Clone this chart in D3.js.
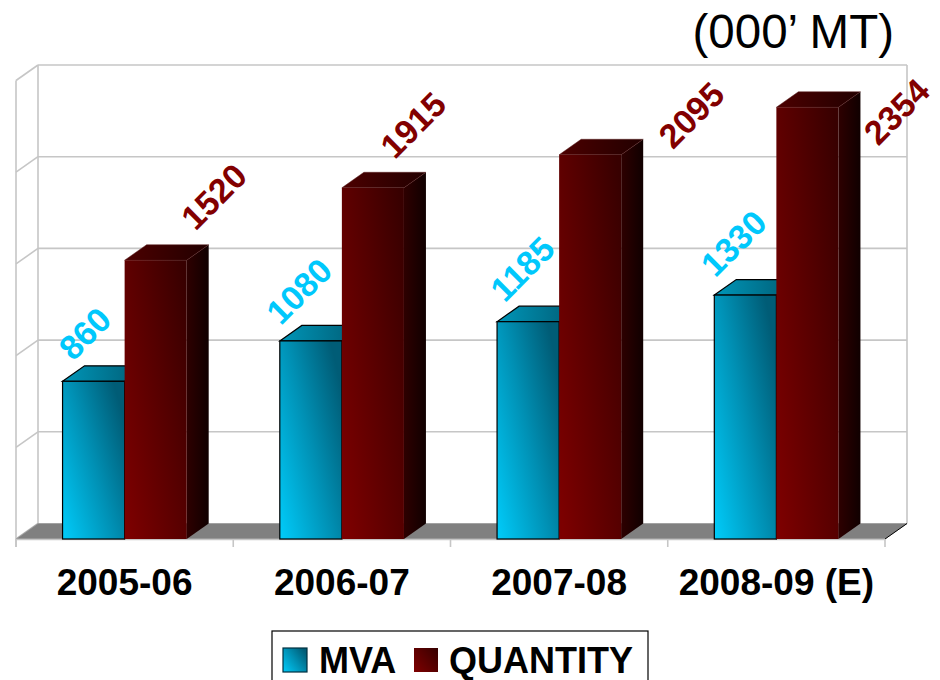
<!DOCTYPE html>
<html>
<head>
<meta charset="utf-8">
<script src="https://cdn.jsdelivr.net/npm/d3@7"></script>
<style>
  html, body { margin: 0; padding: 0; background: #ffffff; }
  svg { display: block; font-family: "Liberation Sans", Arial, sans-serif; }
</style>
</head>
<body>
<svg id="chart" width="940" height="680"></svg>
<script>
// ---- data ----
const categories = ["2005-06", "2006-07", "2007-08", "2008-09 (E)"];
const seriesNames = ["MVA", "QUANTITY"];
const mva = [860, 1080, 1185, 1330];
const quantity = [1520, 1915, 2095, 2354];
const yTicks = [0, 500, 1000, 1500, 2000, 2500];
const unitLabel = "(000\u2019 MT)";

// ---- layout ----
const W = 940, H = 680;
const frontLeft = 16, frontRight = 885, floorY = 539;
const depth = { dx: 22, dy: -15.5 };
const yMax = 2500, yTopFront = 80.5;
// label nudges relative to top-front-centre of each bar (pixels)
const mvaLabelNudge = [[-9, -48], [-12, -50], [-6, -53], [-12, -52]];
const qtyLabelNudge = [[58, -64], [40, -63], [101, -40], [89, 4]];

const svg = d3.select("#chart");
const defs = svg.append("defs");

function grad(id, x1, y1, x2, y2, stops) {
  const g = defs.append("linearGradient").attr("id", id)
    .attr("x1", x1).attr("y1", y1).attr("x2", x2).attr("y2", y2);
  stops.forEach(s => g.append("stop").attr("offset", s[0]).attr("stop-color", s[1]));
}
grad("mvaFront", 0, 1, 1, 0.25, [[0, "#00ccfa"], [0.55, "#0090b4"], [1, "#005c76"]]);
grad("mvaTop", 0, 0, 1, 0, [[0, "#0096b8"], [1, "#005a72"]]);
grad("mvaSide", 0, 0, 1, 0, [[0, "#004a5c"], [1, "#002a36"]]);
grad("qtyFront", 0, 0.9, 1, 0.1, [[0, "#7c0000"], [0.6, "#540000"], [1, "#380000"]]);
grad("qtyTop", 0, 0, 1, 0, [[0, "#4c0000"], [1, "#220000"]]);
grad("qtySide", 0, 0, 1, 0, [[0, "#2e0000"], [1, "#100000"]]);

const fills = [
  { front: "url(#mvaFront)", top: "url(#mvaTop)", side: "url(#mvaSide)", stroke: "#000000", label: "#00c8fc" },
  { front: "url(#qtyFront)", top: "url(#qtyTop)", side: "url(#qtySide)", stroke: "none", label: "#820000" }
];

// scales
const x0 = d3.scaleBand().domain(categories).range([frontLeft, frontRight])
  .paddingInner(1.5 / 3.5).paddingOuter(0.75 / 3.5);
const x1 = d3.scaleBand().domain(seriesNames).range([0, x0.bandwidth()]);
const y = d3.scaleLinear().domain([0, yMax]).range([floorY, yTopFront]);
const step = x0.step();
const boundaries = d3.range(categories.length + 1).map(i => frontLeft + i * step);

// ---- back wall ----
const backL = frontLeft + depth.dx, backR = frontRight + depth.dx;
const gridColor = "#c6c6c6";
const grid = svg.append("g");
yTicks.forEach(v => {
  const yb = y(v) + depth.dy;
  if (v > 0) {
    grid.append("line").attr("x1", backL).attr("x2", backR).attr("y1", yb).attr("y2", yb)
      .attr("stroke", gridColor).attr("stroke-width", 1.6);
  }
  grid.append("line").attr("x1", frontLeft).attr("y1", y(v)).attr("x2", backL).attr("y2", yb)
    .attr("stroke", gridColor).attr("stroke-width", 1.6);
});
grid.append("line").attr("x1", backL).attr("x2", backL)
  .attr("y1", y(yMax) + depth.dy).attr("y2", y(0) + depth.dy)
  .attr("stroke", gridColor).attr("stroke-width", 1.6);
grid.append("line").attr("x1", backR).attr("x2", backR)
  .attr("y1", y(yMax) + depth.dy).attr("y2", y(0) + depth.dy)
  .attr("stroke", gridColor).attr("stroke-width", 1.6);
grid.append("line").attr("x1", frontLeft).attr("x2", frontLeft)
  .attr("y1", y(yMax)).attr("y2", y(0) + 8)
  .attr("stroke", gridColor).attr("stroke-width", 1.6);

// ---- floor ----
svg.append("path")
  .attr("d", d3.line()([[frontLeft, y(0)], [frontRight, y(0)], [backR, y(0) + depth.dy], [backL, y(0) + depth.dy]]) + "Z")
  .attr("fill", "#808080").attr("stroke", "#9a9a9a").attr("stroke-width", 0.8);
svg.append("line").attr("x1", frontRight).attr("y1", y(0)).attr("x2", backR).attr("y2", y(0) + depth.dy)
  .attr("stroke", "#000").attr("stroke-width", 1);
svg.append("line").attr("x1", frontLeft).attr("x2", frontRight).attr("y1", y(0) + 0.5).attr("y2", y(0) + 0.5)
  .attr("stroke", gridColor).attr("stroke-width", 1.6);
boundaries.forEach(bx => {
  svg.append("line").attr("x1", bx).attr("x2", bx).attr("y1", y(0)).attr("y2", y(0) + 8)
    .attr("stroke", gridColor).attr("stroke-width", 1.6);
});

// ---- bars ----
const seriesValues = [mva, quantity];
const nudges = [mvaLabelNudge, qtyLabelNudge];
const bars = svg.append("g");
categories.forEach((c, ci) => {
  seriesNames.forEach((s, si) => {
    const v = seriesValues[si][ci];
    const xl = x0(c) + x1(s), xr = xl + x1.bandwidth();
    const yt = y(v), yb = y(0);
    const f = fills[si];
    const g = bars.append("g");
    g.append("path").attr("d", d3.line()([[xr, yt], [xr + depth.dx, yt + depth.dy], [xr + depth.dx, yb + depth.dy], [xr, yb]]) + "Z")
      .attr("fill", f.side).attr("stroke", f.stroke).attr("stroke-width", 1);
    g.append("path").attr("d", d3.line()([[xl, yt], [xl + depth.dx, yt + depth.dy], [xr + depth.dx, yt + depth.dy], [xr, yt]]) + "Z")
      .attr("fill", f.top).attr("stroke", f.stroke === "none" ? "#5a2020" : f.stroke)
      .attr("stroke-width", f.stroke === "none" ? 0.5 : 1.2);
    g.append("rect").attr("x", xl).attr("y", yt).attr("width", xr - xl).attr("height", yb - yt)
      .attr("fill", f.front).attr("stroke", f.stroke).attr("stroke-width", 1.2);
    const nd = nudges[si][ci];
    g.append("text")
      .attr("transform", `translate(${(xl + xr) / 2 + nd[0]},${yt + nd[1]}) rotate(-45)`)
      .attr("text-anchor", "middle").attr("dy", "0.36em")
      .attr("font-size", 34).attr("font-weight", "bold").attr("fill", f.label)
      .text(v);
  });
});

// ---- category labels ----
svg.append("g").selectAll("text").data(categories).join("text")
  .attr("x", d => x0(d) + x0.bandwidth() / 2).attr("y", 595)
  .attr("text-anchor", "middle").attr("font-size", 37).attr("font-weight", "bold").attr("fill", "#000")
  .text(d => d);

// ---- unit label ----
svg.append("text").attr("x", 894).attr("y", 48).attr("text-anchor", "end")
  .attr("font-size", 47.5).attr("fill", "#000").text(unitLabel);

// ---- legend ----
const lg = svg.append("g");
lg.append("rect").attr("x", 272).attr("y", 631).attr("width", 376).attr("height", 70)
  .attr("fill", "#fff").attr("stroke", "#000").attr("stroke-width", 1.2);
const legendItems = [
  { name: seriesNames[0], sx: 283, tx: 319, fill: "url(#mvaFront)", stroke: "#003040" },
  { name: seriesNames[1], sx: 414, tx: 449, fill: "url(#qtyFront)", stroke: "none" }
];
legendItems.forEach(it => {
  lg.append("rect").attr("x", it.sx).attr("y", 648).attr("width", 24).attr("height", 24)
    .attr("fill", it.fill).attr("stroke", it.stroke).attr("stroke-width", 1.2);
  lg.append("text").attr("x", it.tx).attr("y", 673).attr("font-size", 36).attr("font-weight", "bold")
    .attr("fill", "#000").text(it.name);
});
</script>
</body>
</html>
